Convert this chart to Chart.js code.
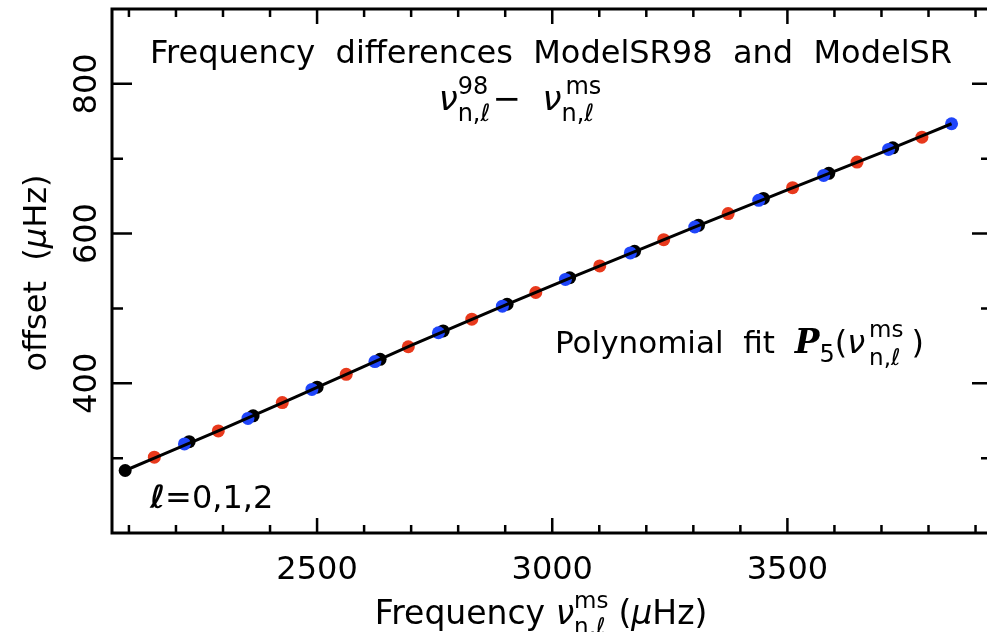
<!DOCTYPE html>
<html>
<head>
<meta charset="utf-8">
<script src="https://cdn.jsdelivr.net/npm/chart.js@4.4.1/dist/chart.umd.min.js"></script>
<style>
  html, body { margin: 0; padding: 0; background: #fff; overflow: hidden; }
  #wrap { width: 1000px; height: 632px; }
</style>
</head>
<body>
<div id="wrap"><canvas id="chart" width="1000" height="632"></canvas></div>
<script>
// l = 0 modes (black)
const freqL0 = [2092, 2228, 2364, 2500, 2634, 2768, 2904, 3037, 3175, 3311, 3449, 3588, 3724];
const offL0 = [283.5, 322, 356.5, 394.8, 432, 470, 505.6, 541, 576.4, 611, 647, 680.5, 714.6];
// l = 1 modes (red)
const freqL1 = [2154, 2290, 2426, 2562, 2694, 2829, 2965, 3101, 3237, 3374, 3511, 3648, 3786];
const offL1 = [301.3, 336.4, 374.2, 412, 448.8, 485.7, 521.3, 556.8, 591.8, 626.7, 661.3, 695.5, 728.8];
// l = 2 modes (blue)
const freqL2 = [2218, 2353, 2489, 2623, 2758, 2894, 3028, 3166, 3303, 3439, 3577, 3715, 3849];
const offL2 = [319, 353, 391.8, 429, 467.5, 503, 538.7, 574.1, 608.8, 644.4, 677.7, 712.4, 746.7];
// polynomial fit curve
const fitFreq = [2092, 2300, 2500, 2700, 2900, 3100, 3300, 3500, 3700, 3849];
const fitOff = [283.5, 339, 394.5, 450.5, 504.5, 556.5, 608, 658.5, 708, 746.7];

const xMajor = [2500, 3000, 3500];
const yMajor = [400, 600, 800];
const xMin = 2064, xMax = 3935;
const yMin = 200, yMax = 900;

const FAM = '"DejaVu Sans", sans-serif';
function fnt(size, style) { return (style ? style + ' ' : '') + size + 'px ' + FAM; }

function toPoints(xs, ys) {
  return xs.map((x, i) => ({ x: x, y: ys[i] }));
}

// rich text: pieces are {t, size, style} or {sup, sub, size, up, down}
function pieceWidth(ctx, p) {
  if (p.sup !== undefined) {
    ctx.font = fnt(p.size);
    return Math.max(ctx.measureText(p.sup).width, ctx.measureText(p.sub).width) + (p.gap || 0);
  }
  ctx.font = p.font || fnt(p.size, p.style);
  return ctx.measureText(p.t).width + (p.gap || 0);
}
function drawRich(ctx, parts, x, y, align) {
  const w = parts.reduce((s, p) => s + pieceWidth(ctx, p), 0);
  let cx = align === 'center' ? x - w / 2 : x;
  ctx.textAlign = 'left';
  ctx.textBaseline = 'alphabetic';
  parts.forEach(p => {
    const pw = pieceWidth(ctx, p);
    if (p.sup !== undefined) {
      ctx.font = fnt(p.size);
      ctx.fillText(p.sup, cx + (p.supShift || 0), y - p.up);
      ctx.fillText(p.sub, cx, y + p.down);
    } else {
      ctx.font = p.font || fnt(p.size, p.style);
      ctx.fillText(p.t, cx, y + (p.dy || 0));
    }
    cx += pw;
  });
}

const framePlugin = {
  id: 'frame',
  afterDatasetsDraw(chart) {
    const ctx = chart.ctx;
    const a = chart.chartArea;
    const xs = chart.scales.x, ys = chart.scales.y;
    ctx.save();
    ctx.strokeStyle = '#000';
    ctx.fillStyle = '#000';
    ctx.lineWidth = 3;
    ctx.strokeRect(a.left, a.top, a.right - a.left, a.bottom - a.top);

    // ticks, pointing inward
    ctx.lineWidth = 2.5;
    ctx.beginPath();
    for (let v = 2100; v < xMax; v += 100) {
      const px = xs.getPixelForValue(v);
      const len = xMajor.includes(v) ? 15 : 8;
      ctx.moveTo(px, a.bottom); ctx.lineTo(px, a.bottom - len);
      ctx.moveTo(px, a.top); ctx.lineTo(px, a.top + len);
    }
    for (let v = 300; v < yMax; v += 100) {
      const py = ys.getPixelForValue(v);
      const len = yMajor.includes(v) ? 20 : 11;
      ctx.moveTo(a.left, py); ctx.lineTo(a.left + len, py);
      ctx.moveTo(a.right, py); ctx.lineTo(a.right - len, py);
    }
    ctx.stroke();

    // tick labels
    ctx.font = fnt(32);
    ctx.textAlign = 'center';
    ctx.textBaseline = 'alphabetic';
    xMajor.forEach(v => ctx.fillText(String(v), xs.getPixelForValue(v), 579));
    yMajor.forEach(v => {
      ctx.save();
      ctx.translate(96, ys.getPixelForValue(v));
      ctx.rotate(-Math.PI / 2);
      ctx.fillText(String(v), 0, 0);
      ctx.restore();
    });

    // axis titles
    drawRich(ctx, [
      { t: 'Frequency ', size: 33 },
      { t: 'ν', size: 33, style: 'italic' },
      { sup: 'ms', sub: 'n,ℓ', size: 23, up: 16, down: 10, gap: 10 },
      { t: '(', size: 33 },
      { t: 'μ', size: 33, style: 'italic' },
      { t: 'Hz)', size: 33 }
    ], 541, 624, 'center');

    ctx.save();
    ctx.translate(46, 273);
    ctx.rotate(-Math.PI / 2);
    drawRich(ctx, [
      { t: 'offset  (', size: 32 },
      { t: 'μ', size: 32, style: 'italic' },
      { t: 'Hz)', size: 32 }
    ], 0, 0, 'center');
    ctx.restore();

    // annotations
    ctx.font = fnt(32);
    ctx.textAlign = 'center';
    ctx.fillText('Frequency  differences  ModelSR98  and  ModelSR', 551, 63);

    drawRich(ctx, [
      { t: 'ν', size: 34, style: 'italic' },
      { sup: '98', sub: 'n,ℓ', size: 24, up: 16, down: 11, gap: 2 },
      { t: '−  ', size: 34 },
      { t: 'ν', size: 34, style: 'italic' },
      { sup: 'ms', sub: 'n,ℓ', size: 24, up: 16, down: 11, supShift: 4 }
    ], 518, 110, 'center');

    drawRich(ctx, [
      { t: 'Polynomial  fit  ', size: 31 },
      { t: 'P', size: 31, font: 'italic bold 33px "DejaVu Serif", serif' },
      { t: '5', size: 24, dy: 9 },
      { t: '(', size: 32 },
      { t: 'ν', size: 32, style: 'italic', gap: 4 },
      { sup: 'ms', sub: 'n,ℓ', size: 23, up: 16, down: 12, gap: 8 },
      { t: ')', size: 32 }
    ], 555, 353, 'left');

    drawRich(ctx, [
      { t: 'ℓ', size: 32, style: 'italic bold' },
      { t: '=0,1,2', size: 32 }
    ], 150, 508, 'left');

    ctx.restore();
  }
};

const chart = new Chart(document.getElementById('chart').getContext('2d'), {
  type: 'scatter',
  data: {
    datasets: [
      {
        label: 'fit',
        type: 'line',
        data: toPoints(fitFreq, fitOff),
        borderColor: '#000',
        borderWidth: 3,
        pointRadius: 0,
        fill: false,
        cubicInterpolationMode: 'monotone'
      },
      {
        label: 'l=2',
        data: toPoints(freqL2, offL2),
        backgroundColor: '#1f45fa',
        borderWidth: 0,
        pointRadius: 6.5
      },
      {
        label: 'l=1',
        data: toPoints(freqL1, offL1),
        backgroundColor: '#e8391c',
        borderWidth: 0,
        pointRadius: 6.5
      },
      {
        label: 'l=0',
        data: toPoints(freqL0, offL0),
        backgroundColor: '#000',
        borderWidth: 0,
        pointRadius: 6.5
      }
    ]
  },
  options: {
    responsive: false,
    animation: false,
    devicePixelRatio: 1,
    layout: { padding: { left: 112, right: 8, top: 9, bottom: 99 } },
    plugins: { legend: { display: false }, tooltip: { enabled: false } },
    scales: {
      x: { type: 'linear', min: xMin, max: xMax, display: false },
      y: { type: 'linear', min: yMin, max: yMax, display: false }
    }
  },
  plugins: [framePlugin]
});
</script>
</body>
</html>
